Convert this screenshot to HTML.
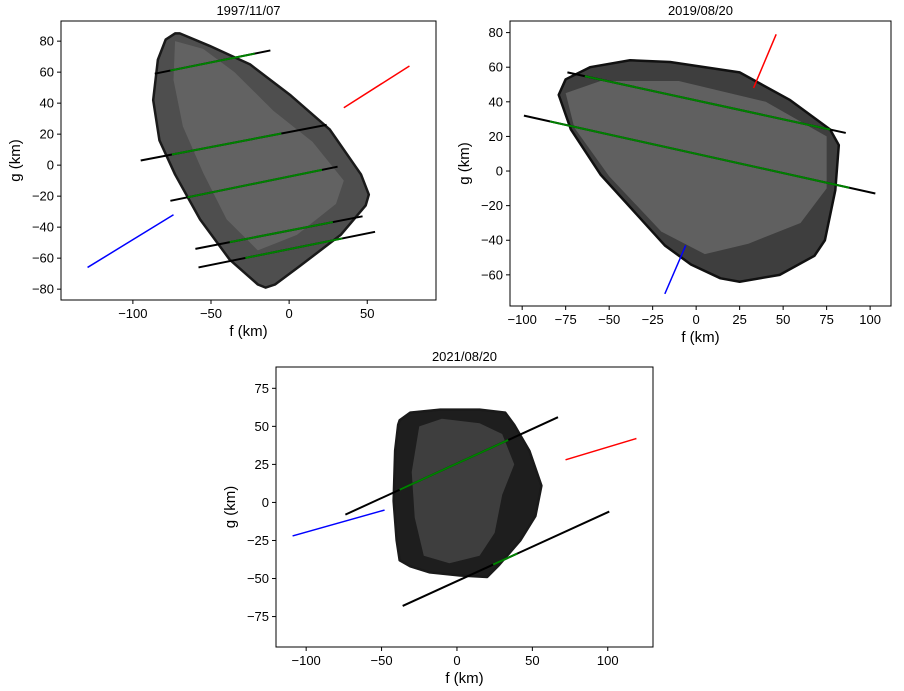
<!DOCTYPE html>
<html><head><meta charset="utf-8">
<style>
html,body{margin:0;padding:0;background:#fff;width:904px;height:691px;overflow:hidden}
svg text{font-family:"Liberation Sans","DejaVu Sans",sans-serif;fill:#000}
</style></head>
<body>
<svg id="fig" width="904" height="691" xmlns="http://www.w3.org/2000/svg"></svg>
<script>
// ---- data ----
const titles = ["1997/11/07","2019/08/20","2021/08/20"];
const xTicks1 = [-100,-50,0,50];
const yTicks1 = [-80,-60,-40,-20,0,20,40,60,80];
const xTicks2 = [-100,-75,-50,-25,0,25,50,75,100];
const yTicks2 = [-60,-40,-20,0,20,40,60,80];
const xTicks3 = [-100,-50,0,50,100];
const yTicks3 = [-75,-50,-25,0,25,50,75];
const shape1 = [[-73,85],[-79,81],[-84,68],[-87,42],[-83,16],[-73,-6],[-57,-35],[-38,-61],[-20,-77],[-15,-79],[-9,-77],[7,-65],[33,-45],[49,-26],[51,-19],[46,-6],[26,23],[1,45],[-25,65],[-51,77],[-70,85]];
const light1 = [[-73,80],[-74,55],[-68,25],[-55,-5],[-40,-35],[-20,-55],[5,-45],[30,-25],[35,-10],[15,15],[-10,35],[-35,60],[-55,75]];
const shape2 = [[-79,44],[-75,53],[-61,60],[-38,64],[-15,63],[25,57],[54,41],[77,24],[82,15],[80,-11],[74,-40],[68,-49],[48,-60],[25,-64],[14,-62],[-3,-54],[-18,-43],[-55,-2],[-72,24]];
const light2 = [[-75,45],[-55,52],[-10,52],[40,40],[75,20],[75,-10],[60,-30],[30,-42],[5,-48],[-20,-35],[-50,-3],[-70,25]];
const shape3 = [[-38,54],[-31,59],[-11,61],[15,61],[32,59],[38,51],[48,34],[56,11],[52,-9],[42,-25],[28,-41],[20,-49],[2,-48],[-18,-46],[-31,-42],[-38,-38],[-40,-25],[-42,1],[-41,34],[-39,51]];
const light3 = [[-25,50],[-10,55],[15,52],[30,45],[38,25],[30,5],[25,-20],[15,-35],[-5,-40],[-22,-35],[-28,-10],[-30,20]];
// chords: [x1,y1,x2,y2, greenStartX, greenEndX]
const chords1 = [[-86,59,-12,74,-76,-22],[-95,3,24,26,-75,-5],[-76,-23,31,-1,-65,21],[-60,-54,47,-33,-38,28],[-58,-66,55,-43,-28,34]];
const chords2 = [[-74,57,86,22,-64,77],[-99,32,103,-13,-84,88]];
const chords3 = [[-74,-8,67,56,-38,34],[-36,-68,101,-6,24,40]];
const red1=[35,37,77,64], blue1=[-129,-66,-74,-32];
const red2=[33,48,46,79], blue2=[-18,-71,-6,-43];
const red3=[72,28,119,42], blue3=[-109,-22,-48,-5];

const NS="http://www.w3.org/2000/svg";
const fig=document.getElementById('fig');
function el(tag,attrs,parent){const e=document.createElementNS(NS,tag);for(const k in attrs)e.setAttribute(k,attrs[k]);(parent||fig).appendChild(e);return e;}

function panel(name,box,xr,yr,xt,yt,title,shape,light,dark,mid,lite,chords,red,blue){
  const g=el('g',{});
  
  
  const [L,T,R,B]=box;
  const sx=v=>L+(v-xr[0])/(xr[1]-xr[0])*(R-L);
  const sy=v=>B-(v-yr[0])/(yr[1]-yr[0])*(B-T);
  const pts=a=>a.map(p=>sx(p[0])+','+sy(p[1])).join(' ');
  const body=el('polygon',{points:pts(shape),fill:mid,stroke:dark,'stroke-width':2.5,'stroke-linejoin':'round'},g);
  
  
  const lp=el('polygon',{points:pts(light),fill:lite,opacity:0.75},g);
  
  
  chords.forEach((c,i)=>{
    const l=el('line',{x1:sx(c[0]),y1:sy(c[1]),x2:sx(c[2]),y2:sy(c[3]),stroke:'#000','stroke-width':2},g);
    
    
    const m=(c[3]-c[1])/(c[2]-c[0]);
    const gy=x=>c[1]+m*(x-c[0]);
    const gl=el('line',{x1:sx(c[4]),y1:sy(gy(c[4])),x2:sx(c[5]),y2:sy(gy(c[5])),stroke:'#008000','stroke-width':2},g);
    
    
  });
  const r=el('line',{x1:sx(red[0]),y1:sy(red[1]),x2:sx(red[2]),y2:sy(red[3]),stroke:'#ff0000','stroke-width':1.5},g);
  
  
  const b=el('line',{x1:sx(blue[0]),y1:sy(blue[1]),x2:sx(blue[2]),y2:sy(blue[3]),stroke:'#0000ff','stroke-width':1.5},g);
  
  
  const fr=el('rect',{x:L,y:T,width:R-L,height:B-T,fill:'none',stroke:'#000','stroke-width':1},g);
  
  
  xt.forEach(v=>{
    el('line',{x1:sx(v),y1:B,x2:sx(v),y2:B+4,stroke:'#000'},g);
    const t=el('text',{x:sx(v),y:B+18,'text-anchor':'middle','font-size':13},g);
    t.textContent=(v<0?'\u2212'+(-v):v);
    
    
  });
  yt.forEach(v=>{
    el('line',{x1:L-4,y1:sy(v),x2:L,y2:sy(v),stroke:'#000'},g);
    const t=el('text',{x:L-7,y:sy(v)+4.5,'text-anchor':'end','font-size':13},g);
    t.textContent=(v<0?'\u2212'+(-v):v);
    
    
  });
  const tt=el('text',{x:(L+R)/2,y:T-6,'text-anchor':'middle','font-size':13},g);
  tt.textContent=title;
  
  
  const xl=el('text',{x:(L+R)/2,y:B+36,'text-anchor':'middle','font-size':15},g);
  xl.textContent='f (km)';
  
  
  const yx=L-41, yy=(T+B)/2;
  const yl=el('text',{x:yx,y:yy,'text-anchor':'middle','font-size':15,transform:`rotate(-90 ${yx} ${yy})`},g);
  yl.textContent='g (km)';
  
  
}
panel('panel-1997',[61,21,436,300],[-146,94],[-87,93],xTicks1,yTicks1,titles[0],shape1,light1,'#1a1a1a','#4e4e4e','#6a6a6a',chords1,red1,blue1);
panel('panel-2019',[510,21,891,306],[-107,112],[-78,86.7],xTicks2,yTicks2,titles[1],shape2,light2,'#111','#3e3e3e','#6c6c6c',chords2,red2,blue2);
panel('panel-2021',[276,367,653,647],[-120,130],[-95,89],xTicks3,yTicks3,titles[2],shape3,light3,'#1a1a1a','#1e1e1e','#4a4a4a',chords3,red3,blue3);
</script>
</body></html>
